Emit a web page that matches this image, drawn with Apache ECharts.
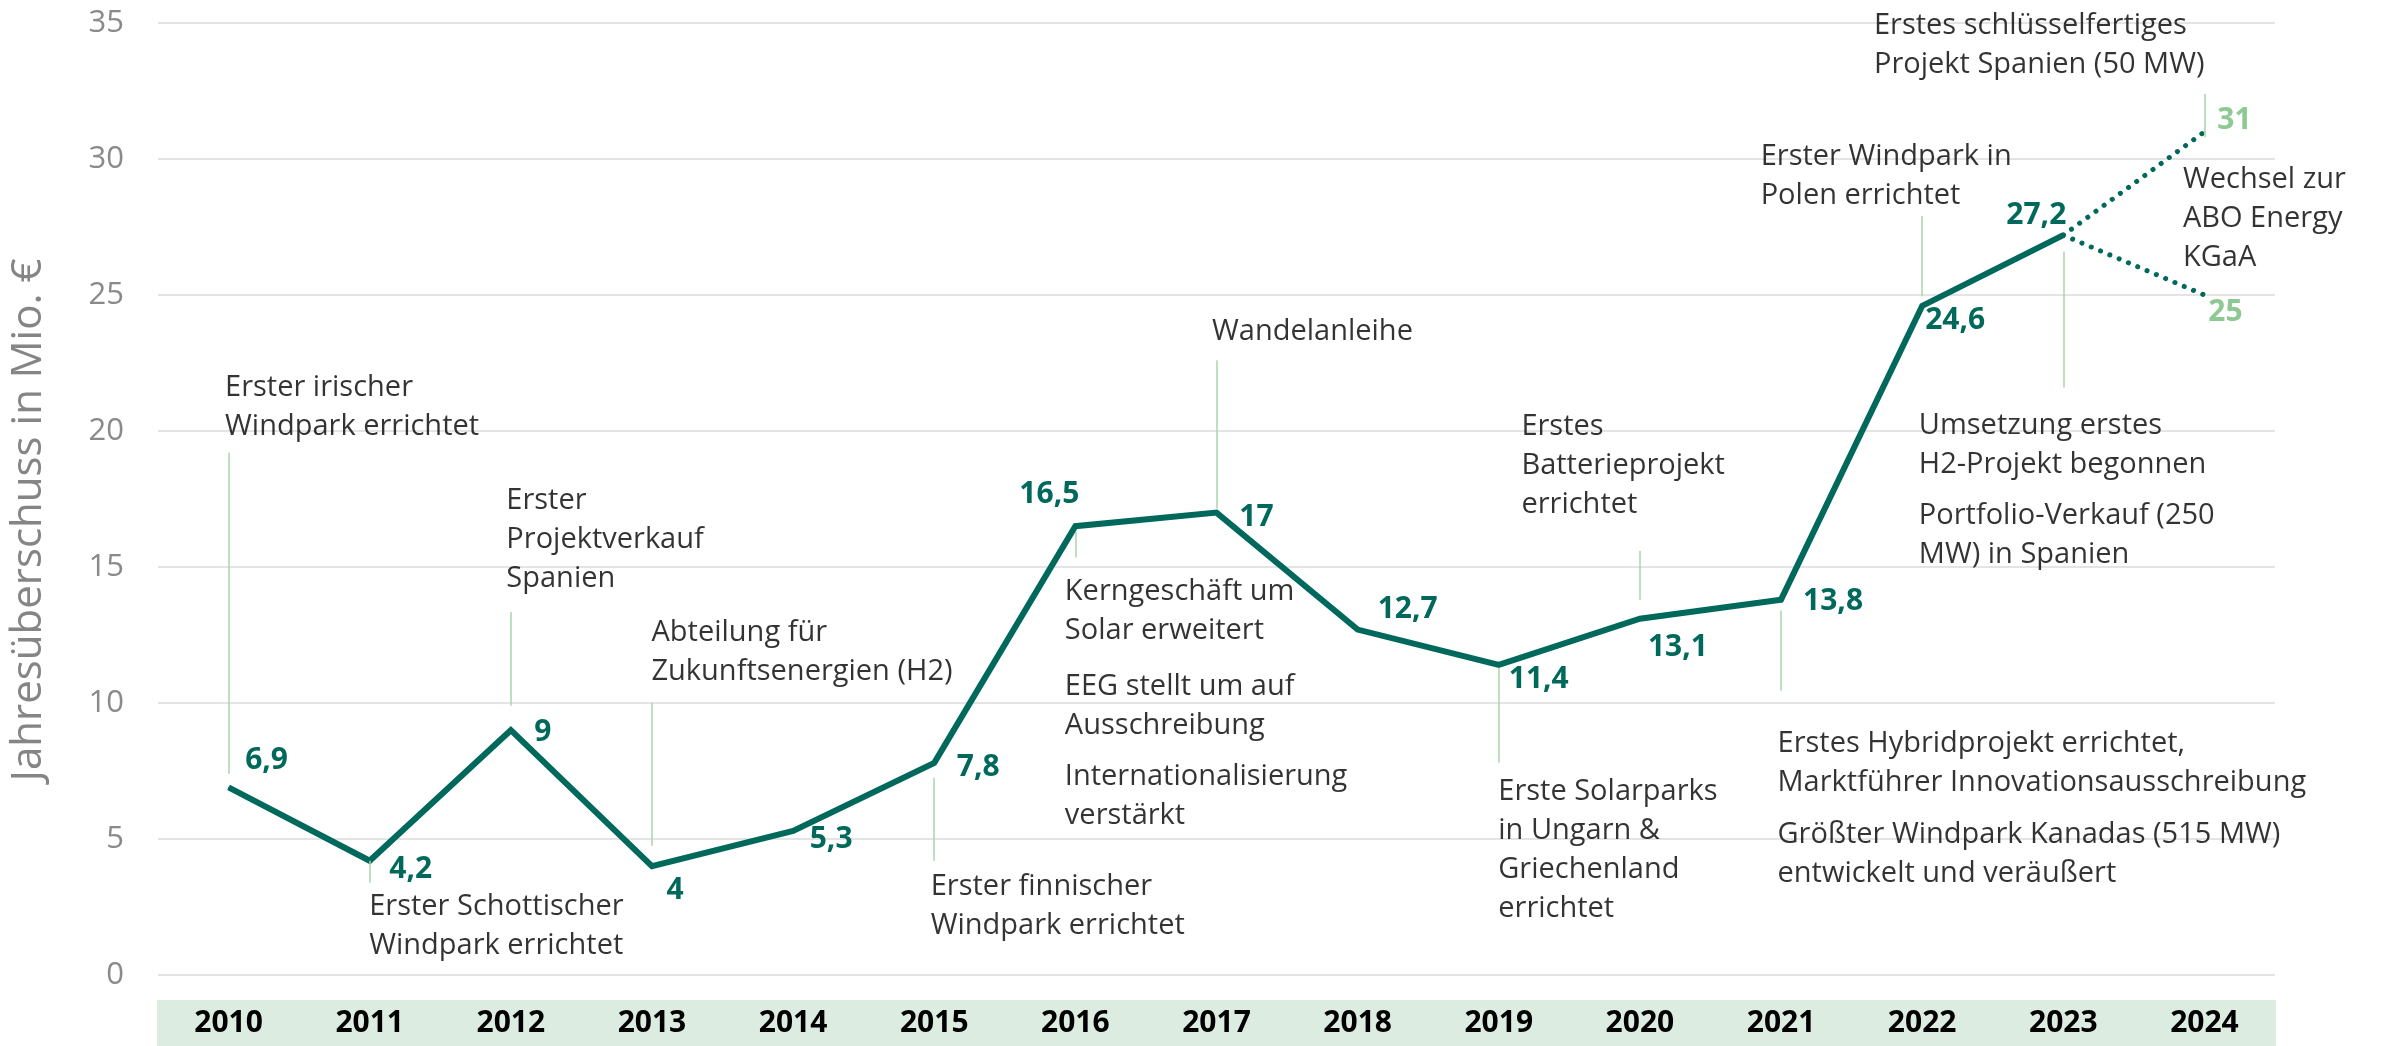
<!DOCTYPE html>
<html>
<head>
<meta charset="utf-8">
<script src="https://cdn.jsdelivr.net/npm/echarts@6/dist/echarts.min.js"></script>
<style>
  html, body { margin: 0; padding: 0; background: #fff; }
  #chart { width: 2382px; height: 1046px; }
</style>
</head>
<body>
<div id="chart"></div>
<script>
// Jahresüberschuss in Mio. €
var years = ['2010','2011','2012','2013','2014','2015','2016','2017','2018','2019','2020','2021','2022','2023','2024'];
var netIncome = [6.9, 4.2, 9, 4, 5.3, 7.8, 16.5, 17, 12.7, 11.4, 13.1, 13.8, 24.6, 27.2, null];
var forecastHigh = [null, null, null, null, null, null, null, null, null, null, null, null, null, 27.2, 31];
var forecastLow = [null, null, null, null, null, null, null, null, null, null, null, null, null, 27.2, 25];
var yTicks = [0, 5, 10, 15, 20, 25, 30, 35];

// Ereignisse (Text oben links an [Jahr, Wert])
var noteYears = ['2010','2011','2012','2013','2015','2016','2016','2016','2017','2019','2020','2021','2021','2022','2023','2023','2024','2024'];
var noteValues = [22.3, 3.2, 18.15, 13.3, 3.95, 14.8, 11.3, 8.0, 24.35, 7.45, 20.85, 9.2, 5.85, 30.8, 20.9, 17.6, 35.6, 29.95];
var noteTexts = [
  'Erster irischer\nWindpark errichtet',
  'Erster Schottischer\nWindpark errichtet',
  'Erster\nProjektverkauf\nSpanien',
  'Abteilung für\nZukunftsenergien (H2)',
  'Erster finnischer\nWindpark errichtet',
  'Kerngeschäft um\nSolar erweitert',
  'EEG stellt um auf\nAusschreibung',
  'Internationalisierung\nverstärkt',
  'Wandelanleihe',
  'Erste Solarparks\nin Ungarn &\nGriechenland\nerrichtet',
  'Erstes\nBatterieprojekt\nerrichtet',
  'Erstes Hybridprojekt errichtet,\nMarktführer Innovationsausschreibung',
  'Größter Windpark Kanadas (515 MW)\nentwickelt und veräußert',
  'Erster Windpark in\nPolen errichtet',
  'Umsetzung erstes\nH2-Projekt begonnen',
  'Portfolio-Verkauf (250\nMW) in Spanien',
  'Erstes schlüsselfertiges\nProjekt Spanien (50 MW)',
  'Wechsel zur\nABO Energy\nKGaA'
];

// Hinweislinien
var leaderYears = ['2010','2011','2012','2013','2015','2016','2017','2019','2020','2021','2022','2023','2024'];
var leaderFrom = [7.4, 4.2, 9.9, 4.75, 4.2, 15.35, 17.15, 7.8, 13.8, 10.45, 24.95, 21.6, 30.8];
var leaderTo = [19.2, 3.4, 13.35, 10.0, 7.25, 16.3, 22.6, 11.3, 15.6, 13.4, 27.9, 26.6, 32.4];

// layout: pixel shifts for labels
var labelShift = [[38,-27],[41,9],[32,2],[23,24],[38,9],[44,5],[-26,-32],[40,5],[50,-20],[40,15],[38,29],[52,2],[33,15],[-27,-20],null];
var noteShiftX = [-3, 0, -4, 0, -3, -10, -10, -10, -4, 0, -118, -3, -3, -161, -144, -144, -330, -21];

var teal = '#00695b';
var lightGreen = '#8ec892';
var leaderGreen = '#a9d5ab';
var band = '#dcece0';
var fontFamily = '"Open Sans", "Noto Sans", sans-serif';

function fmt(v) { return String(v).replace('.', ','); }

var mainData = netIncome.map(function (v, i) {
  if (v === null) return null;
  return { value: v, label: { offset: labelShift[i] } };
});

var highData = forecastHigh.map(function (v, i) {
  if (v === null) return null;
  return { value: v, label: { show: i === years.length - 1, offset: [30, -11] } };
});
var lowData = forecastLow.map(function (v, i) {
  if (v === null) return null;
  return { value: v, label: { show: i === years.length - 1, offset: [21, 17] } };
});

var noteData = noteTexts.map(function (t, i) {
  return { name: t, value: [noteYears[i], noteValues[i]], label: { offset: [noteShiftX[i], 0] } };
});

var leaderData = leaderYears.map(function (y, i) {
  return [{ coord: [y, leaderFrom[i]] }, { coord: [y, leaderTo[i]] }];
});

var chart = echarts.init(document.getElementById('chart'), null, { renderer: 'canvas' });

var plotLeft = 152, plotRight = 107;
var catWidth = (2382 - plotLeft - plotRight) / years.length;

chart.setOption({
  animation: false,
  backgroundColor: '#fff',
  textStyle: { fontFamily: fontFamily },
  grid: { left: plotLeft, right: plotRight, top: 23, bottom: 71 },
  xAxis: {
    type: 'category',
    data: years,
    boundaryGap: true,
    axisTick: { show: false },
    axisLine: { show: false },
    axisLabel: {
      interval: 0,
      margin: 25,
      color: '#000',
      fontSize: 30,
      fontWeight: 'bold',
      fontFamily: fontFamily,
      backgroundColor: band,
      width: Math.ceil(catWidth) + 1,
      align: 'center',
      lineHeight: 30,
      padding: [8, 0, 8, 0]
    },
    splitLine: { show: false }
  },
  yAxis: {
    type: 'value',
    min: yTicks[0],
    max: yTicks[yTicks.length - 1],
    interval: 5,
    name: 'Jahresüberschuss in Mio. €',
    nameLocation: 'middle',
    nameGap: 108,
    nameTextStyle: { color: '#858585', fontSize: 42, fontFamily: fontFamily, padding: [0, 42, 0, 0] },
    axisLine: { show: false },
    axisTick: { show: false },
    axisLabel: { color: '#8a8a8a', fontSize: 31, margin: 34, fontFamily: fontFamily },
    splitLine: { lineStyle: { color: '#e4e4e4', width: 2 } }
  },
  series: [
    {
      name: 'Ereignisse',
      type: 'scatter',
      data: noteData,
      symbolSize: 1,
      itemStyle: { color: 'rgba(0,0,0,0)' },
      clip: false,
      silent: true,
      z: 1,
      label: {
        show: true,
        position: [0, 0],
        align: 'left',
        verticalAlign: 'top',
        formatter: '{b}',
        color: '#000',
        fontSize: 29,
        lineHeight: 39,
        fontFamily: fontFamily
      },
      markLine: {
        silent: true,
        symbol: ['none', 'none'],
        label: { show: false },
        lineStyle: { color: leaderGreen, width: 1.5, type: 'solid' },
        emphasis: { disabled: true },
        data: leaderData
      }
    },
    {
      name: 'Prognose hoch',
      type: 'line',
      data: highData,
      symbol: 'circle',
      symbolSize: 1,
      itemStyle: { color: teal },
      lineStyle: { color: teal, width: 5, type: [0.1, 10], cap: 'round' },
      z: 3,
      label: {
        show: false,
        position: 'inside',
        color: lightGreen,
        fontSize: 30,
        fontWeight: 'bold',
        fontFamily: fontFamily,
        formatter: function (p) { return fmt(p.value); }
      }
    },
    {
      name: 'Prognose niedrig',
      type: 'line',
      data: lowData,
      symbol: 'circle',
      symbolSize: 1,
      itemStyle: { color: teal },
      lineStyle: { color: teal, width: 5, type: [0.1, 10], cap: 'round' },
      z: 3,
      label: {
        show: false,
        position: 'inside',
        color: lightGreen,
        fontSize: 30,
        fontWeight: 'bold',
        fontFamily: fontFamily,
        formatter: function (p) { return fmt(p.value); }
      }
    },
    {
      name: 'Jahresüberschuss',
      type: 'line',
      data: mainData,
      symbol: 'circle',
      symbolSize: 1,
      itemStyle: { color: teal },
      lineStyle: { color: teal, width: 6, join: 'miter' },
      z: 4,
      label: {
        show: true,
        position: 'inside',
        color: teal,
        fontSize: 30,
        fontWeight: 'bold',
        fontFamily: fontFamily,
        formatter: function (p) { return fmt(p.value); }
      }
    }
  ]
});
</script>
</body>
</html>
